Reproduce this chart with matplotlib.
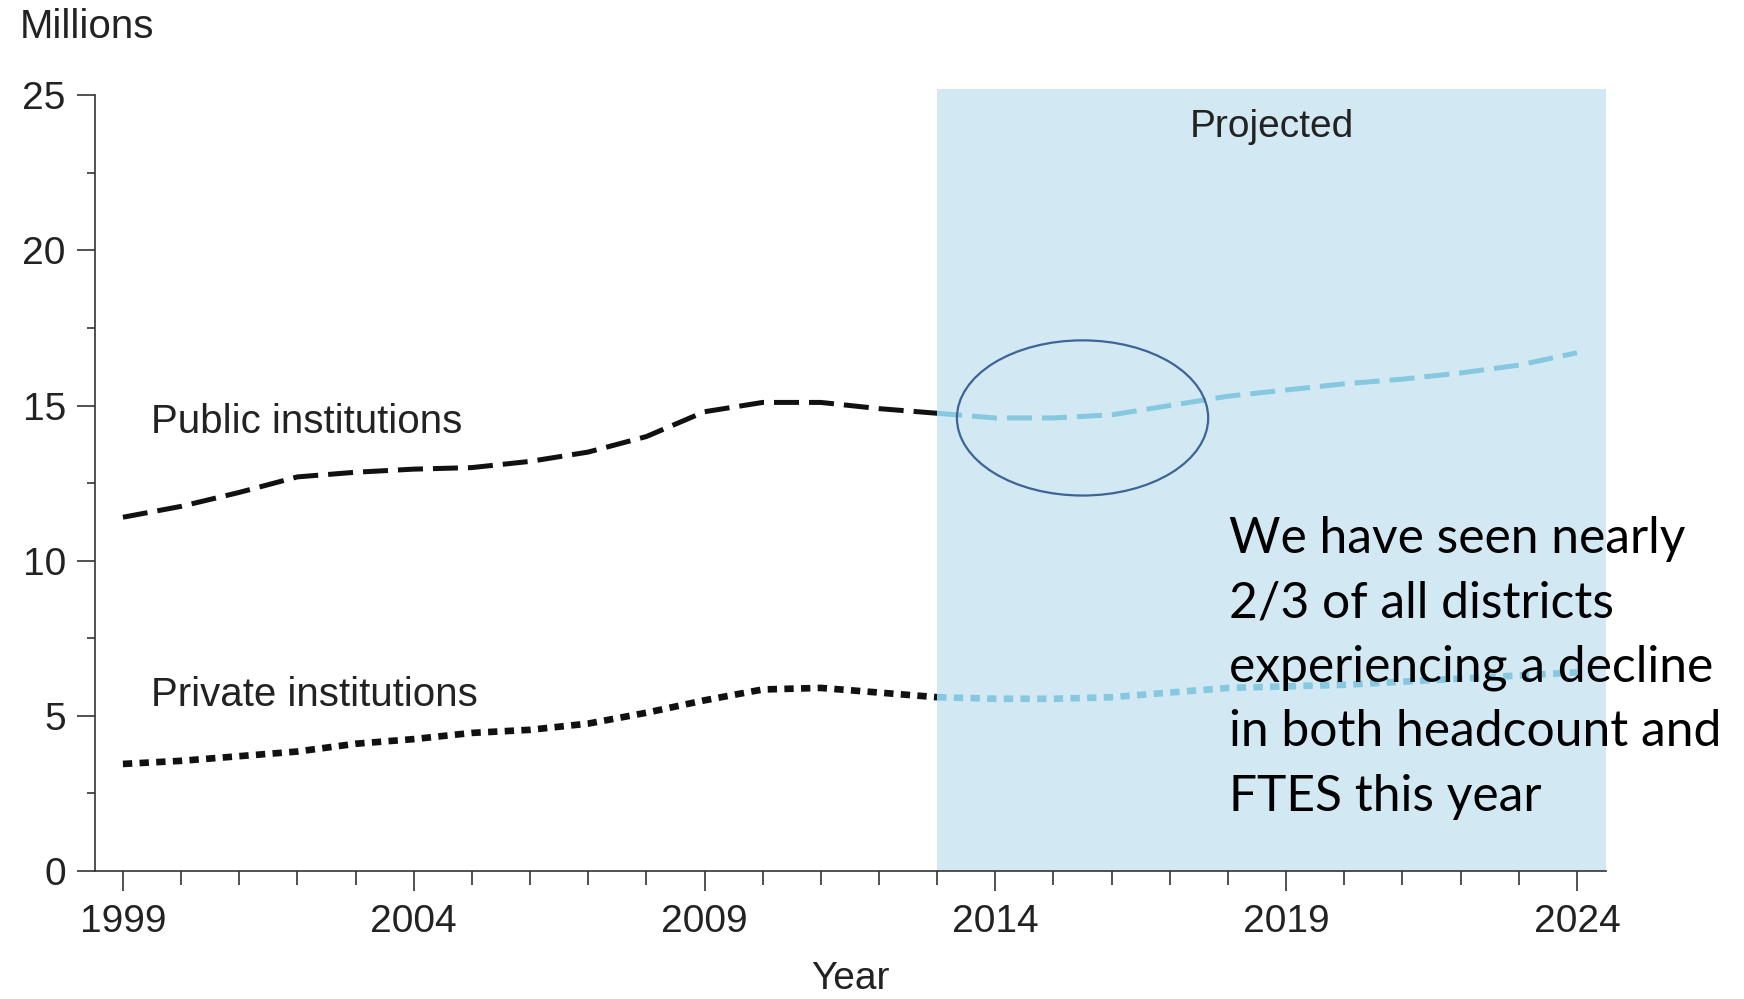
import matplotlib
matplotlib.use("Agg")
import matplotlib.pyplot as plt
from matplotlib.patches import Ellipse, Rectangle
from matplotlib.ticker import MultipleLocator

# enrollment, millions
YEARS_HIST = list(range(1999, 2014))
YEARS_PROJ = list(range(2013, 2025))
PUBLIC_HIST = [11.4, 11.75, 12.2, 12.7, 12.85, 12.95, 13.0, 13.2, 13.5, 14.0, 14.8, 15.1, 15.1, 14.9, 14.75]
PUBLIC_PROJ = [14.75, 14.6, 14.6, 14.7, 15.0, 15.3, 15.5, 15.7, 15.85, 16.05, 16.3, 16.7]
PRIVATE_HIST = [3.45, 3.55, 3.7, 3.85, 4.1, 4.25, 4.45, 4.55, 4.75, 5.1, 5.5, 5.85, 5.9, 5.75, 5.6]
PRIVATE_PROJ = [5.6, 5.55, 5.55, 5.6, 5.75, 5.9, 5.95, 6.0, 6.1, 6.2, 6.3, 6.4]
PROJ_START = 2013
XTICKS = [1999, 2004, 2009, 2014, 2019, 2024]
NOTE = ["We have seen nearly", "2/3 of all districts", "experiencing a decline",
        "in both headcount and", "FTES this year"]

BLACK, PROJ, SHADE, RING, AXC = "#111111", "#86c8e0", "#d2e9f3", "#3c6496", "#333333"

plt.rcParams["font.family"] = ["Liberation Sans", "DejaVu Sans"]
fig = plt.figure(figsize=(17.44, 9.99), dpi=100)
ax = fig.add_axes((95 / 1744, 1 - 871 / 999, (1606 - 95) / 1744, (871 - 89) / 999))

ax.add_patch(Rectangle((PROJ_START, 0), 2024.5 - PROJ_START, 25.2, color=SHADE, lw=0, zorder=0))

ax.plot(YEARS_HIST, PUBLIC_HIST, color=BLACK, lw=3.6, dashes=(5, 2), zorder=3)
ax.plot(YEARS_PROJ, PUBLIC_PROJ, color=PROJ, lw=3.6, dashes=(5, 2), zorder=3)
ax.plot(YEARS_HIST, PRIVATE_HIST, color=BLACK, lw=4.8, dashes=(1.4, 1.1), zorder=3)
ax.plot(YEARS_PROJ, PRIVATE_PROJ, color=PROJ, lw=4.8, dashes=(1.4, 1.1), zorder=3)

ax.add_patch(Ellipse((2015.5, 14.6), 4.32, 5.0, fill=False, ec=RING, lw=1.6, zorder=4))

ax.set_xlim(1998.52, 2024.5)
ax.set_ylim(0, 25.2)
ax.spines[["top", "right"]].set_visible(False)
ax.spines["left"].set_bounds(0, 25)
for sp in ("left", "bottom"):
    ax.spines[sp].set_color(AXC)
    ax.spines[sp].set_linewidth(1.2)
ax.set_xticks(XTICKS)
ax.xaxis.set_minor_locator(MultipleLocator(1))
ax.yaxis.set_major_locator(MultipleLocator(5))
ax.yaxis.set_minor_locator(MultipleLocator(2.5))
ax.tick_params(axis="x", which="major", length=14.5, width=1.2, color=AXC, labelsize=28, pad=9.5, labelcolor="#222")
ax.tick_params(axis="x", which="minor", length=10, width=1.2, color=AXC)
ax.tick_params(axis="y", which="major", length=13, width=1.2, color=AXC, labelsize=28, pad=8, labelcolor="#222")
ax.tick_params(axis="y", which="minor", length=6, width=1.2, color=AXC)
ax.set_xlabel("Year", fontsize=28, color="#222", labelpad=15)

ax.text(1999.48, 14.47, "Public institutions", fontsize=29, color="#222", va="center")
ax.text(1999.48, 5.68, "Private institutions", fontsize=29, color="#222", va="center")
ax.text((PROJ_START + 2024.5) / 2, 23.98, "Projected", fontsize=28, color="#222", ha="center", va="center")
fig.text(20 / 1744, 1 - 27 / 999, "Millions", fontsize=29, color="#222", va="center")

fig.text(1229 / 1744, 1 - 668 / 999, "\n".join(NOTE), fontsize=35.8, family=["Lato", "DejaVu Sans"],
         color="black", va="center", ha="left", linespacing=1.49)

fig.savefig("out.png", dpi=100)
